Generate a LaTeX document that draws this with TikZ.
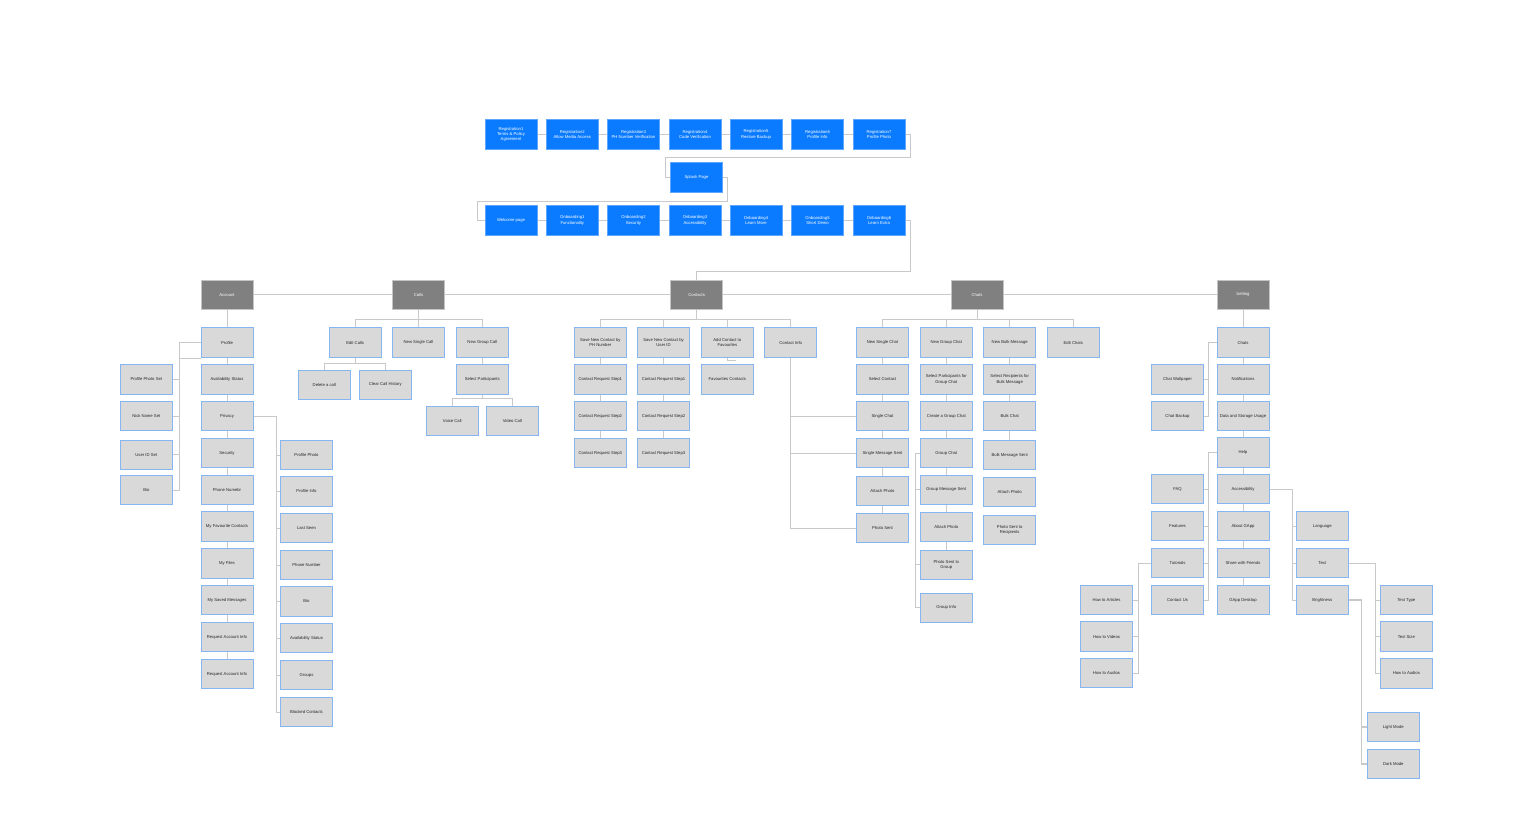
\documentclass[tikz,border=0pt]{standalone}
\usepackage{fontspec}
\setmainfont{Liberation Sans}
\usetikzlibrary{backgrounds}
\definecolor{boxfill}{HTML}{D9D9D9}
\definecolor{boxborder}{HTML}{85B6F2}
\definecolor{hdrfill}{HTML}{808080}
\definecolor{hdrborder}{HTML}{C4C4C4}
\definecolor{bluefill}{HTML}{0A7BFF}
\definecolor{blueborder}{HTML}{5EA6FF}
\definecolor{lncol}{HTML}{C9C9C9}
\newcommand\dfont{\fontsize{4.2}{5.4}\selectfont}
\tikzset{
  base/.style={line width=0.8pt, minimum width=52pt, minimum height=29.3pt, inner sep=0pt, align=center, font=\dfont},
  box/.style={base, draw=boxborder, fill=boxfill, text=black!85},
  hdr/.style={base, draw=hdrborder, fill=hdrfill, text=white},
  bbox/.style={base, draw=blueborder, fill=bluefill, text=white},
  ln/.style={draw=lncol, line width=0.9pt},
  thk/.style={draw=lncol, line width=1.4pt}
}
\begin{document}
\begin{tikzpicture}[x=1pt,y=-1pt]
\useasboundingbox (0,0) rectangle (1536,828);
% ---------- top flow ----------
\node[bbox] (r1) at (511,134.5) {Registration1\\Terms \& Policy\\Agreement};
\node[bbox] (r2) at (572.3,134.5) {Registration2\\Allow Media Access};
\node[bbox] (r3) at (633.5,134.5) {Registration3\\PH Number Verification};
\node[bbox] (r4) at (695,134.5) {Registration4\\Code Verification};
\node[bbox] (r5) at (756,134.5) {Registration5\\Restore Backup};
\node[bbox] (r6) at (817.5,134.5) {Registration6\\Profile Info};
\node[bbox] (r7) at (879,134.5) {Registration7\\Profile Photo};
\node[bbox] (splash) at (696.5,177.5) {Splash Page};
\node[bbox] (o0) at (511,220.5) {Welcome page};
\node[bbox] (o1) at (572.3,220.5) {Onboarding1\\Functionality};
\node[bbox] (o2) at (633.5,220.5) {Onboarding2\\Security};
\node[bbox] (o3) at (695,220.5) {Onboarding3\\Accessibility};
\node[bbox] (o4) at (756,220.5) {Onboarding4\\Learn More};
\node[bbox] (o5) at (817.5,220.5) {Onboarding5\\Short Demo};
\node[bbox] (o6) at (879,220.5) {Onboarding6\\Learn Extra};
% ---------- headers ----------
\node[hdr] (acc) at (227,294.7) {Account};
\node[hdr] (calls) at (418.5,294.7) {Calls};
\node[hdr] (cont) at (696.7,294.7) {Contacts};
\node[hdr] (chats) at (977,294.7) {Chats};
\node[hdr] (set) at (1243,294.7) {Setting};
% ---------- account ----------
\node[box] (a1) at (227,342.5) {Profile};
\node[box] (a2) at (227,379.3) {Availability Status};
\node[box] (a3) at (227,416) {Privacy};
\node[box] (a4) at (227,453) {Security};
\node[box] (a5) at (227,490) {Phone Numebr};
\node[box] (a6) at (227,526.5) {My Favourite Contacts};
\node[box] (a7) at (227,563.3) {My Files};
\node[box] (a8) at (227,600) {My Saved Messages};
\node[box] (a9) at (227,637) {Request Account Info};
\node[box] (a10) at (227,674) {Request Account Info};
\node[box] (p1) at (146.3,379.3) {Profile Photo Set};
\node[box] (p2) at (146.3,416) {Nick Name Set};
\node[box] (p3) at (146.3,454.7) {User ID Set};
\node[box] (p4) at (146.3,490) {Bio};
\node[box] (v1) at (306.5,455) {Profile Photo};
\node[box] (v2) at (306.5,491.3) {Profile Info};
\node[box] (v3) at (306.5,528) {Last Seen};
\node[box] (v4) at (306.5,565) {Phone Number};
\node[box] (v5) at (306.5,601.3) {Bio};
\node[box] (v6) at (306.5,638) {Availability Status};
\node[box] (v7) at (306.5,675) {Groups};
\node[box] (v8) at (306.5,712) {Blocked Contacts};
% ---------- calls ----------
\node[box] (c1) at (355.2,342.5) {Edit Calls};
\node[box] (c2) at (418.5,342.5) {New Single Call};
\node[box] (c3) at (482.3,342.5) {New Group Call};
\node[box] (c4) at (324.3,384.7) {Delete a call};
\node[box] (c5) at (385.3,384.7) {Clear Call History};
\node[box] (c6) at (482.3,379.3) {Select Participants};
\node[box] (c7) at (452.3,421) {Voice Call};
\node[box] (c8) at (512.3,421) {Video Call};
% ---------- contacts ----------
\node[box] (k1) at (600.3,342.5) {Save New Contact by\\PH Number};
\node[box] (k2) at (663.5,342.5) {Save New Contact by\\User ID};
\node[box] (k3) at (727.3,342.5) {Add Contact to\\Favourites};
\node[box] (k4) at (790.7,342.5) {Contact Info};
\node[box] (k5) at (600.3,379.3) {Contact Request Step1};
\node[box] (k6) at (600.3,416) {Contact Request Step2};
\node[box] (k7) at (600.3,453) {Contact Request Step3};
\node[box] (k8) at (663.5,379.3) {Contact Request Step1};
\node[box] (k9) at (663.5,416) {Contact Request Step2};
\node[box] (k10) at (663.5,453) {Contact Request Step3};
\node[box] (k11) at (727.3,379.3) {Favourites Contacts};
% ---------- chats ----------
\node[box] (h1) at (882.5,342.5) {New Single Chat};
\node[box] (h2) at (946.3,342.5) {New Group Chat};
\node[box] (h3) at (1009.7,342.5) {New Bulk Message};
\node[box] (h4) at (1073.3,342.5) {Edit Chats};
\node[box] (h5) at (882.5,379.3) {Select Contact};
\node[box] (h6) at (882.5,416) {Single Chat};
\node[box] (h7) at (882.5,453) {Single Message Sent};
\node[box] (h8) at (882.5,490.7) {Attach Photo};
\node[box] (h9) at (882.5,528) {Photo Sent};
\node[box] (g1) at (946.3,379.3) {Select Participants for\\Group Chat};
\node[box] (g2) at (946.3,416) {Create a Group Chat};
\node[box] (g3) at (946.3,453) {Group Chat};
\node[box] (g4) at (946.3,489.8) {Group Message Sent};
\node[box] (g5) at (946.3,527.2) {Attach Photo};
\node[box] (g6) at (946.3,564.7) {Photo Sent to\\Group};
\node[box] (g7) at (946.3,607.8) {Group Info};
\node[box] (b1) at (1009.7,379.3) {Select Recipients for\\Bulk Message};
\node[box] (b2) at (1009.7,416) {Bulk Chat};
\node[box] (b3) at (1009.7,455.2) {Bulk Message Sent};
\node[box] (b4) at (1009.7,492) {Attach Photo};
\node[box] (b5) at (1009.7,529.7) {Photo Sent to\\Recipients};
% ---------- setting ----------
\node[box] (s1) at (1243,342.5) {Chats};
\node[box] (s2) at (1243,379.3) {Notifications};
\node[box] (s3) at (1243,416) {Data and Storage Usage};
\node[box] (s4) at (1243,452.5) {Help};
\node[box] (s5) at (1243,489) {Accessibility};
\node[box] (s6) at (1243,526) {About GApp};
\node[box] (s7) at (1243,563) {Share with Friends};
\node[box] (s8) at (1243,600) {GApp Desktop};
\node[box] (w1) at (1177.5,379.3) {Chat Wallpaper};
\node[box] (w2) at (1177.5,416) {Chat Backup};
\node[box] (f1) at (1177.5,489) {FAQ};
\node[box] (f2) at (1177.5,526) {Features};
\node[box] (f3) at (1177.5,563) {Tutorials};
\node[box] (f4) at (1177.5,600) {Contact Us};
\node[box] (t1) at (1106.5,600) {How to Articles};
\node[box] (t2) at (1106.5,636.5) {How to Videos};
\node[box] (t3) at (1106.5,673) {How to Audios};
\node[box] (l1) at (1322.3,526) {Language};
\node[box] (l2) at (1322.3,563) {Text};
\node[box] (l3) at (1322.3,600) {Brightness};
\node[box] (x1) at (1406.3,600) {Text Type};
\node[box] (x2) at (1406.3,636.5) {Text Size};
\node[box] (x3) at (1406.3,673.3) {How to Audios};
\node[box] (d1) at (1393.3,727) {Light Mode};
\node[box] (d2) at (1393.3,764) {Dark Mode};
% ---------- bus coordinates ----------
\coordinate (pbar) at (179.3,0);
\coordinate (vbar) at (276,0);
\coordinate (cbus) at (0,319.3);
\coordinate (ebus) at (0,363.3);
\coordinate (sbus) at (0,398.3);
\coordinate (kel) at (735.7,360);
\coordinate (gbar) at (915.7,0);
\coordinate (wbar) at (1208.3,0);
\coordinate (tbar) at (1138.3,0);
\coordinate (lbar) at (1292,0);
\coordinate (xbar) at (1375.3,0);
\coordinate (dbar) at (1361.3,0);
\coordinate (rt) at (910,157.5);
\coordinate (rl) at (665.3,157.5);
\coordinate (sp1) at (727.3,201.3);
\coordinate (sp2) at (477,201.3);
\coordinate (ob) at (910.5,271);
\begin{scope}[on background layer]
\fill[white] (0,0) rectangle (1536,828);
% top flow
\foreach \a/\b in {r1/r2,r2/r3,r3/r4,r4/r5,r5/r6,r6/r7,o0/o1,o1/o2,o2/o3,o3/o4,o4/o5,o5/o6}
  \draw[ln] (\a) -- (\b);
\draw[ln] (r7.east) -| (rt) -- (rl) |- (splash.west);
\draw[ln] (splash.east) -| (sp1) -- (sp2) |- (o0.west);
\draw[ln] (o6.east) -| (ob) -| (cont.north);
% headers
\foreach \a/\b in {acc/calls,calls/cont,cont/chats,chats/set}
  \draw[ln] (\a) -- (\b);
% account
\foreach \a/\b in {acc/a1,a1/a2,a2/a3,a3/a4,a4/a5,a5/a6,a6/a7,a7/a8,a8/a9,a9/a10}
  \draw[ln] (\a) -- (\b);
\draw[ln] (a1.west) -| (pbar |- p4.east) -- (p4.east);
\foreach \n in {p1,p2,p3} \draw[ln] (\n.east) -- (\n.east -| pbar);
\draw[ln] ([yshift=-1pt]a1.south west) -- ([yshift=-1pt]a1.south west -| pbar);
\draw[ln] (a3.east) -| (vbar |- v8.west) -- (v8.west);
\foreach \n in {v1,v2,v3,v4,v5,v6,v7} \draw[ln] (\n.west) -- (\n.west -| vbar);
% calls
\draw[ln] (calls) -- (c2);
\draw[ln] (c1.north) -- (c1.north |- cbus) -- (c3.north |- cbus) -- (c3.north);
\draw[ln] (c1.south) -- (c1.south |- ebus);
\draw[ln] (c4.north) -- (c4.north |- ebus) -- (c5.north |- ebus) -- (c5.north);
\draw[ln] (c3) -- (c6);
\draw[ln] (c6.south) -- (c6.south |- sbus);
\draw[ln] (c7.north) -- (c7.north |- sbus) -- (c8.north |- sbus) -- (c8.north);
% contacts
\draw[ln] (cont.south) -- (cont.south |- cbus);
\draw[ln] (k1.north) -- (k1.north |- cbus) -- (k4.north |- cbus) -- (k4.north);
\draw[ln] (k2.north) -- (k2.north |- cbus);
\draw[ln] (k3.north) -- (k3.north |- cbus);
\foreach \a/\b in {k1/k5,k5/k6,k6/k7,k2/k8,k8/k9,k9/k10}
  \draw[ln] (\a) -- (\b);
\draw[ln] (k3.south) |- (kel);
\draw[ln] (k4.south) |- (h9.west);
\draw[ln] (k4.south |- h6.west) -- (h6.west);
\draw[ln] (k4.south |- h7.west) -- (h7.west);
% chats
\draw[ln] (chats.south) -- (chats.south |- cbus);
\draw[ln] (h1.north) -- (h1.north |- cbus) -- (h4.north |- cbus) -- (h4.north);
\draw[ln] (h2.north) -- (h2.north |- cbus);
\draw[ln] (h3.north) -- (h3.north |- cbus);
\foreach \a/\b in {h1/h5,h5/h6,h6/h7,h7/h8,h8/h9,h2/g1,g1/g2,g2/g3,g3/g4,g4/g5,g5/g6,h3/b1,b1/b2,b2/b3}
  \draw[ln] (\a) -- (\b);
\draw[ln] (g3.west) -| (gbar |- g7.west) -- (g7.west);
\foreach \n in {g4,g6} \draw[ln] (\n.west) -- (\n.west -| gbar);
% setting
\foreach \a/\b in {set/s1,s1/s2,s2/s3,s3/s4,s4/s5,s5/s6,s6/s7,s7/s8}
  \draw[ln] (\a) -- (\b);
\draw[ln] (s1.west) -| (wbar |- w2.east) -- (w2.east);
\draw[ln] (w1.east) -- (w1.east -| wbar);
\draw[ln] (s4.west) -| (wbar |- f4.east) -- (f4.east);
\foreach \n in {f1,f2,f3} \draw[ln] (\n.east) -- (\n.east -| wbar);
\draw[ln] (f3.west) -| (tbar |- t3.east) -- (t3.east);
\foreach \n in {t1,t2} \draw[ln] (\n.east) -- (\n.east -| tbar);
\draw[ln] (s5.east) -| (lbar |- l3.west) -- (l3.west);
\foreach \n in {l1,l2} \draw[ln] (\n.west) -- (\n.west -| lbar);
\draw[ln] (l2.east) -| (xbar |- x3.west) -- (x3.west);
\foreach \n in {x1,x2} \draw[ln] (\n.west) -- (\n.west -| xbar);
\draw[thk] (l3.east) -| (dbar |- d2.west) -- (d2.west);
\draw[thk] (d1.west) -- (d1.west -| dbar);
\end{scope}
\end{tikzpicture}
\end{document}
